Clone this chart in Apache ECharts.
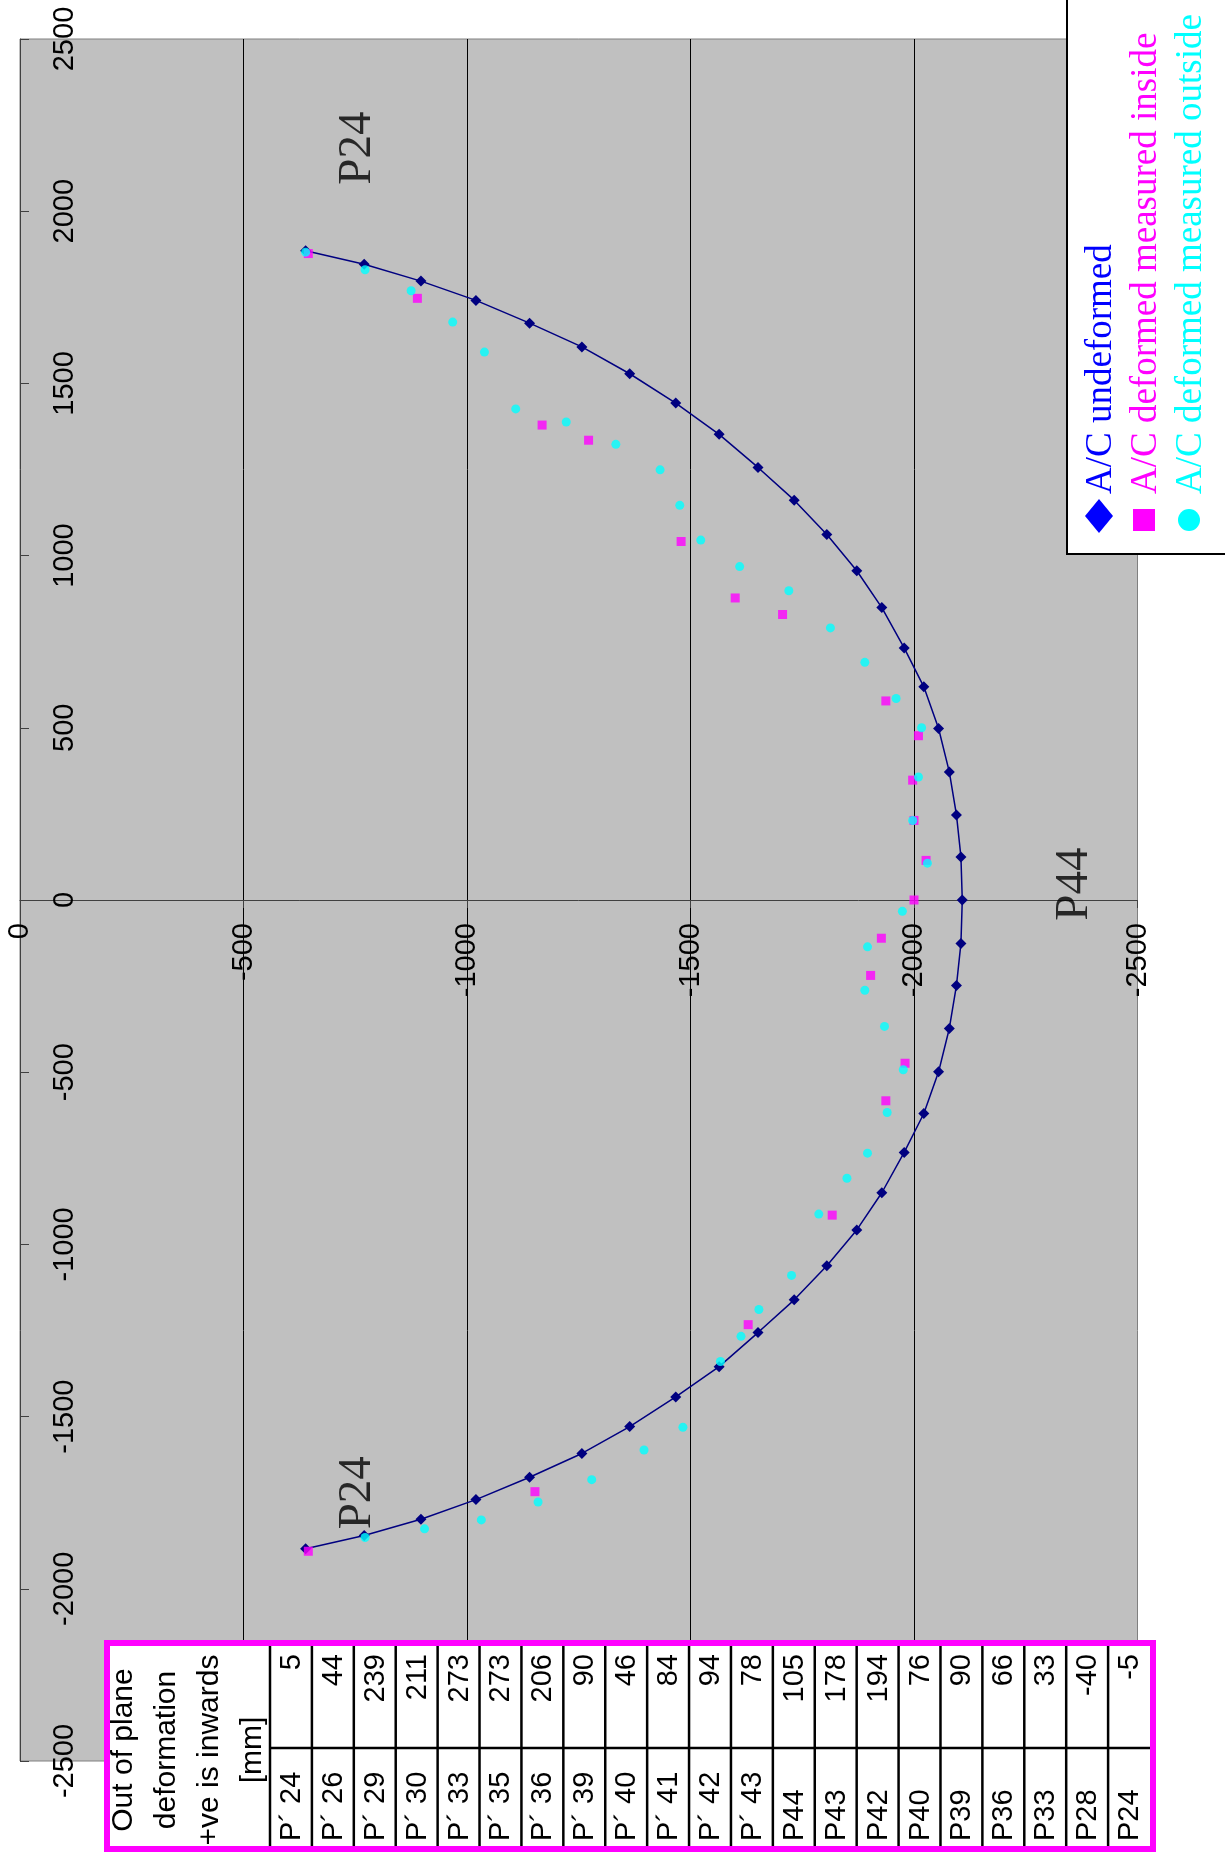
<!DOCTYPE html>
<html>
<head>
<meta charset="utf-8">
<script src="https://cdn.jsdelivr.net/npm/echarts@6/dist/echarts.min.js"></script>
<style>
html,body{margin:0;padding:0;background:#ffffff;}
#chart{width:1225px;height:1852px;}
</style>
</head>
<body>
<div id="chart"></div>
<script>
// Lateral position (plotted vertically) and height (plotted horizontally), mm
const undeformedLateral = [1885, 1846, 1797, 1741, 1675, 1606, 1528, 1443, 1352, 1256, 1161, 1061, 956, 849, 732, 619, 498, 372, 247, 125, 0, -126, -248, -373, -499, -620, -733, -850, -958, -1062, -1161, -1256, -1355, -1443, -1529, -1607, -1676, -1741, -1798, -1845, -1884];
const undeformedHeight = [-639, -770, -897, -1020, -1140, -1257, -1364, -1467, -1564, -1651, -1732, -1805, -1872, -1928, -1978, -2022, -2055, -2079, -2095, -2105, -2108, -2105, -2095, -2079, -2055, -2022, -1978, -1928, -1872, -1805, -1732, -1651, -1564, -1467, -1364, -1257, -1140, -1020, -897, -770, -639];

const insideLateral = [1877, 1747, 1379, 1335, 1041, 877, 829, 578, 477, 348, 231, 115, 0, -111, -219, -474, -583, -915, -1233, -1718, -1891];
const insideHeight = [-645, -889, -1168, -1272, -1479, -1600, -1706, -1937, -2010, -1997, -2000, -2027, -2000, -1927, -1903, -1980, -1937, -1817, -1629, -1152, -645];

const outsideLateral = [1881, 1830, 1769, 1678, 1591, 1426, 1388, 1323, 1249, 1146, 1045, 968, 898, 790, 690, 585, 500, 357, 231, 107, -33, -136, -262, -367, -493, -617, -735, -808, -912, -1090, -1189, -1267, -1340, -1531, -1597, -1683, -1748, -1800, -1826, -1851];
const outsideHeight = [-639, -772, -875, -968, -1039, -1109, -1222, -1333, -1432, -1476, -1523, -1610, -1720, -1813, -1890, -1960, -2017, -2010, -1997, -2030, -1974, -1896, -1890, -1934, -1976, -1940, -1896, -1850, -1787, -1726, -1653, -1613, -1567, -1483, -1396, -1279, -1159, -1032, -905, -772];

const annotationNames = ['P24', 'P24', 'P44'];
const annotationLateral = [2183, -1721, 46];
const annotationHeight = [-756, -756, -2360];

const legendNames = ['A/C undeformed', 'A/C deformed measured inside', 'A/C deformed measured outside'];

const tableHeaderLines = ['Out of plane', 'deformation', '+ve is inwards', '[mm]'];
const tablePoints = ['P\u00b4 24', 'P\u00b4 26', 'P\u00b4 29', 'P\u00b4 30', 'P\u00b4 33', 'P\u00b4 35', 'P\u00b4 36', 'P\u00b4 39', 'P\u00b4 40', 'P\u00b4 41', 'P\u00b4 42', 'P\u00b4 43', 'P44', 'P43', 'P42', 'P40', 'P39', 'P36', 'P33', 'P28', 'P24'];
const tableDeformation = [5, 44, 239, 211, 273, 273, 206, 90, 46, 84, 94, 78, 105, 178, 194, 76, 90, 66, 33, -40, -5];

const pairs = (h, l) => h.map((v, i) => [v, l[i]]);
const ROT = Math.PI / 2;
const SANS = '"Liberation Sans", Arial, sans-serif';
const SERIF = '"Liberation Serif", "Times New Roman", serif';

// grid geometry
const G_LEFT = 20, G_TOP = 39, G_RIGHT = 87.5, G_BOTTOM = 91;
const G_H = 1852 - G_TOP - G_BOTTOM;

// ---- legend (drawn rotated, as in the reference) ----
const legendGraphics = [
  { type: 'rect', z: 100, shape: { x: 1067, y: -10, width: 200, height: 564 },
    style: { fill: '#ffffff', stroke: '#000000', lineWidth: 2 } },
  { type: 'polygon', z: 101, shape: { points: [[1099, 499], [1113, 516], [1099, 533], [1085, 516]] },
    style: { fill: '#0000FF' } },
  { type: 'rect', z: 101, shape: { x: 1133, y: 509, width: 22, height: 22 }, style: { fill: '#FF00FF' } },
  { type: 'circle', z: 101, shape: { cx: 1189, cy: 520, r: 11 }, style: { fill: '#00FFFF' } }
];
const legendColors = ['#0000FF', '#FF00FF', '#00FFFF'];
const legendX = [1101, 1146, 1191];
legendNames.forEach((n, i) => {
  legendGraphics.push({
    type: 'text', z: 101, x: legendX[i], y: 494, rotation: ROT,
    style: { text: n, fill: legendColors[i], font: '37px ' + SERIF,
             textAlign: 'left', textVerticalAlign: 'middle', verticalAlign: 'middle' }
  });
});

// ---- data table (rotated) ----
const tLeft = 107, tTop = 1643, tRight = 1153, tBottom = 1849;
const headRight = 270, innerRight = 1150, divY = 1748;
const colW = (innerRight - headRight) / tablePoints.length;
const tableGraphics = [
  { type: 'rect', z: 100, shape: { x: tLeft, y: tTop, width: tRight - tLeft, height: tBottom - tTop },
    style: { fill: '#ffffff', stroke: '#FF00FF', lineWidth: 6 } },
  { type: 'line', z: 101, shape: { x1: headRight, y1: divY, x2: innerRight, y2: divY },
    style: { stroke: '#000000', lineWidth: 2.5 } }
];
for (let i = 0; i < tablePoints.length; i++) {
  const x0 = headRight + i * colW;
  tableGraphics.push({ type: 'line', z: 101, shape: { x1: x0, y1: tTop + 3, x2: x0, y2: tBottom - 3 },
    style: { stroke: '#000000', lineWidth: 2.5 } });
  const cx = x0 + colW / 2 + 1;
  tableGraphics.push({ type: 'text', z: 102, x: cx, y: 1654, rotation: ROT,
    style: { text: String(tableDeformation[i]), fill: '#000', font: '29px ' + SANS,
             textAlign: 'right', textVerticalAlign: 'middle', verticalAlign: 'middle' } });
  tableGraphics.push({ type: 'text', z: 102, x: cx, y: 1841, rotation: ROT,
    style: { text: tablePoints[i], fill: '#000', font: '29px ' + SANS,
             textAlign: 'left', textVerticalAlign: 'middle', verticalAlign: 'middle' } });
}
const headerX = [124, 167, 210, 253];
tableHeaderLines.forEach((t, i) => {
  tableGraphics.push({ type: 'text', z: 102, x: headerX[i], y: 1750, rotation: ROT,
    style: { text: t, fill: '#000', font: '30px ' + SANS,
             textAlign: 'center', textVerticalAlign: 'middle', verticalAlign: 'middle' } });
});

const chart = echarts.init(document.getElementById('chart'), null, { renderer: 'canvas' });
chart.setOption({
  animation: false,
  backgroundColor: '#ffffff',
  grid: { show: true, left: G_LEFT, top: G_TOP, right: G_RIGHT, bottom: G_BOTTOM,
          backgroundColor: '#C0C0C0', borderColor: '#808080', borderWidth: 1,
          containLabel: false, outerBoundsMode: 'none' },
  xAxis: {
    type: 'value', min: -2500, max: 0, interval: 500, inverse: true, position: 'bottom',
    // axis sits where the lateral position is zero (half way up the plot)
    offset: -G_H / 2,
    axisLine: { show: true, onZero: false, lineStyle: { color: '#404040', width: 1 } },
    axisTick: { show: true, inside: false, length: 8, lineStyle: { color: '#404040' } },
    axisLabel: { show: true, rotate: 90, margin: 23, fontSize: 29, fontFamily: SANS, color: '#000',
                 align: 'right', verticalAlign: 'middle', showMinLabel: true, showMaxLabel: true,
                 formatter: v => String(v) },
    splitLine: { show: true, showMinLine: false, showMaxLine: false, lineStyle: { color: '#000000', width: 1 } }
  },
  yAxis: {
    type: 'value', min: -2500, max: 2500, interval: 500, position: 'left',
    axisLine: { show: true, onZero: false, lineStyle: { color: '#404040', width: 1 } },
    axisTick: { show: true, inside: true, length: 9, lineStyle: { color: '#404040' } },
    axisLabel: { show: true, inside: true, rotate: 90, margin: 45, fontSize: 29, fontFamily: SANS, color: '#000',
                 align: 'center', verticalAlign: 'middle', showMinLabel: true, showMaxLabel: true,
                 formatter: v => String(v) },
    splitLine: { show: false }
  },
  series: [
    { type: 'line', name: legendNames[0], data: pairs(undeformedHeight, undeformedLateral),
      symbol: 'diamond', symbolSize: 11, showAllSymbol: true, clip: false,
      itemStyle: { color: '#000080' }, lineStyle: { color: '#000080', width: 1.5 }, z: 2 },
    { type: 'scatter', name: legendNames[1], data: pairs(insideHeight, insideLateral),
      symbol: 'rect', symbolSize: 9, itemStyle: { color: '#FF00FF' }, z: 3 },
    { type: 'scatter', name: legendNames[2], data: pairs(outsideHeight, outsideLateral),
      symbol: 'circle', symbolSize: 9, itemStyle: { color: '#00FFFF' }, z: 4 },
    { type: 'scatter', name: 'labels', silent: true, z: 5,
      data: annotationNames.map((n, i) => ({ name: n, value: [annotationHeight[i], annotationLateral[i]] })),
      symbol: 'circle', symbolSize: 1, itemStyle: { color: 'rgba(0,0,0,0)' },
      label: { show: true, position: 'inside', rotate: 90, formatter: '{b}', fontSize: 47,
               fontFamily: SERIF, color: '#000' } }
  ],
  graphic: legendGraphics.concat(tableGraphics)
});
</script>
</body>
</html>
